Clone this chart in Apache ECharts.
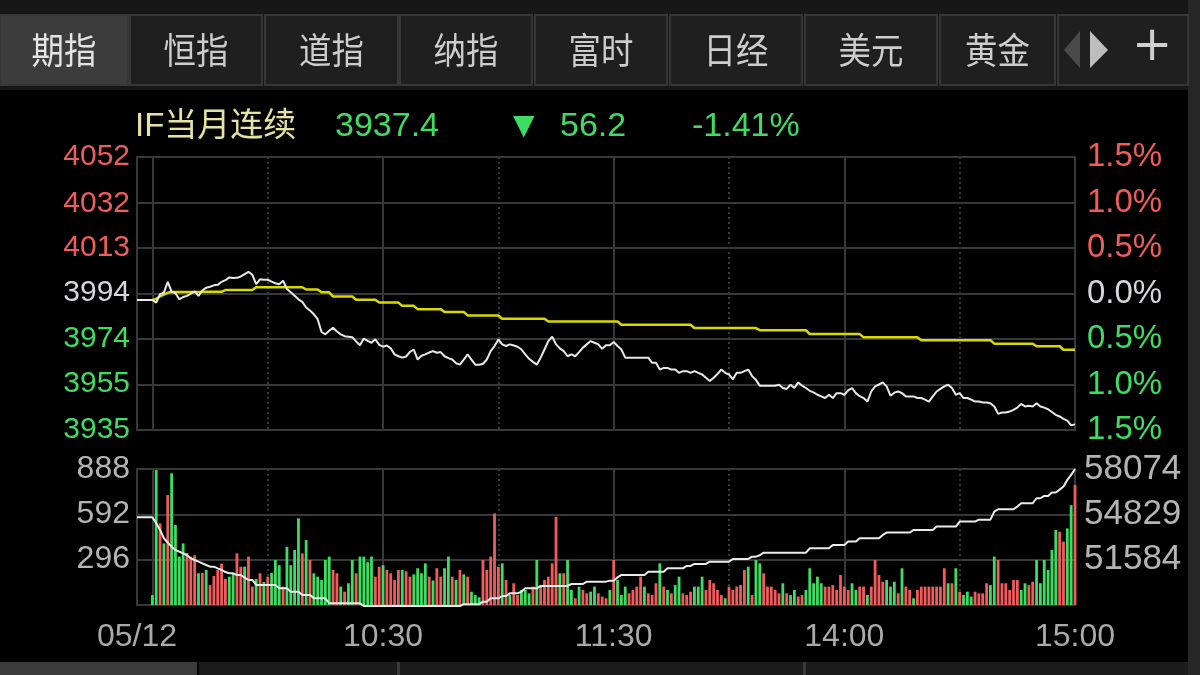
<!DOCTYPE html>
<html><head><meta charset="utf-8">
<script src="https://cdn.jsdelivr.net/npm/echarts@6/dist/echarts.min.js"></script>
<style>html,body{margin:0;padding:0;background:#000;}#c{width:1200px;height:675px;}</style>
</head><body><div id="c"></div><script>
// ---------- DATA ----------
const tabNames = ['期指','恒指','道指','纳指','富时','日经','美元','黄金'];
const title = 'IF当月连续';
const lastPrice = '3937.4';
const change = '56.2';
const changePct = '-1.41%';
const prevClose = 3993.6;
const timeTickIndex = [0, 64, 124, 184, 244];
const timeTickText = ['05/12', '10:30', '11:30', '14:00', '15:00'];
const priceTicks = [3935, 3955, 3974, 3994, 4013, 4032, 4052];
const oiTicks = [51584, 54829, 58074];
// price: 4 pre-open points + 241 minutes (09:30..11:30, 13:01..15:00)
const price = [3990.7,3990.7,3990.7,3990.7,
3990.7,3989.6,3993.2,3993.9,3998.5,3994.3,3993.6,3991.0,3992.0,3992.5,
3993.4,3994.4,3992.5,3994.8,3996.0,3996.4,3997.0,3997.2,3998.5,3999.2,
4000.4,4000.1,4000.2,4000.8,4001.8,4002.8,4001.5,3997.5,3999.6,3999.4,
3999.4,3998.6,3997.9,3997.5,3999.0,3995.4,3994.0,3992.5,3991.0,3989.9,
3987.5,3986.2,3984.6,3982.5,3977.0,3976.0,3977.5,3978.8,3977.2,3976.0,
3975.2,3975.0,3974.8,3973.0,3971.3,3974.2,3973.2,3972.4,3973.9,3971.5,
3970.7,3971.2,3970.0,3967.4,3966.6,3966.0,3966.5,3968.5,3969.5,3965.2,
3966.8,3967.4,3968.2,3968.8,3968.1,3968.4,3966.6,3965.8,3965.2,3963.6,
3963.0,3965.2,3967.4,3965.2,3963.0,3963.0,3963.4,3965.2,3968.8,3971.0,
3973.8,3971.7,3971.0,3971.7,3971.2,3970.7,3969.5,3967.4,3965.5,3964.2,
3963.0,3966.0,3969.5,3973.1,3975.0,3971.7,3970.0,3968.8,3966.6,3967.4,
3966.6,3968.4,3970.3,3971.7,3973.1,3972.4,3971.7,3969.8,3971.3,3971.3,
3972.7,3971.0,3969.5,3966.0,3966.0,3966.0,3966.0,3966.0,3966.0,3966.0,
3963.8,3963.8,3960.9,3961.6,3961.6,3960.9,3960.9,3959.5,3960.2,3960.2,
3959.5,3960.2,3959.5,3958.8,3957.4,3956.0,3957.4,3959.0,3960.9,3959.5,
3958.8,3956.7,3959.5,3959.5,3960.2,3960.9,3958.1,3956.5,3954.0,3954.0,
3954.0,3954.0,3954.0,3954.4,3953.0,3952.6,3954.4,3953.0,3955.4,3954.0,
3953.0,3951.8,3951.1,3950.1,3949.4,3948.7,3950.1,3948.7,3950.8,3950.8,
3950.1,3952.0,3953.0,3950.8,3949.5,3948.7,3947.2,3951.5,3953.7,3954.5,
3955.4,3953.7,3949.7,3951.0,3951.5,3950.8,3949.4,3949.4,3949.4,3948.7,
3948.7,3948.0,3947.2,3949.4,3951.5,3952.6,3953.7,3954.4,3953.0,3950.1,
3950.8,3948.7,3948.7,3948.0,3947.2,3947.2,3946.8,3946.8,3946.5,3945.1,
3941.9,3942.5,3942.5,3942.9,3943.6,3944.6,3946.2,3945.1,3945.4,3945.1,
3946.5,3945.1,3944.6,3943.9,3942.7,3941.5,3940.8,3939.8,3939.0,3937.0,
3937.4];
const avgPrice = [null,null,null,null,
3990.7,3991.2,3992.3,3993.0,3993.8,3994.1,3994.1,3994.1,3994.1,3994.1,
3994.1,3994.1,3994.1,3994.2,3994.2,3994.2,3994.2,3994.2,3994.2,3995.0,
3995.0,3995.0,3995.0,3995.0,3995.0,3995.0,3995.0,3996.2,3996.2,3996.2,
3996.2,3996.2,3996.2,3996.2,3996.2,3996.2,3996.2,3996.2,3996.2,3996.2,
3995.2,3995.2,3995.2,3995.2,3994.0,3994.0,3994.0,3992.2,3992.2,3992.2,
3992.2,3992.2,3992.2,3990.8,3990.8,3990.8,3990.8,3990.8,3990.8,3989.6,
3989.6,3989.6,3989.6,3989.6,3989.6,3988.2,3988.2,3988.2,3988.2,3986.8,
3986.8,3986.8,3986.8,3986.8,3986.8,3986.8,3985.6,3985.6,3985.6,3985.6,
3985.6,3985.6,3984.1,3984.1,3984.1,3984.1,3984.1,3984.1,3984.1,3984.1,
3984.1,3982.7,3982.7,3982.7,3982.7,3982.7,3982.7,3982.7,3982.7,3982.7,
3982.7,3982.7,3982.7,3981.5,3981.5,3981.5,3981.5,3981.5,3981.5,3981.5,
3981.5,3981.5,3981.5,3981.5,3981.5,3981.5,3981.5,3981.5,3981.5,3981.5,
3981.5,3981.5,3980.1,3980.1,3980.1,3980.1,3980.1,3980.1,3980.1,3980.1,
3980.1,3980.1,3980.1,3980.1,3980.1,3980.1,3980.1,3980.1,3980.1,3980.1,
3980.1,3978.7,3978.7,3978.7,3978.7,3978.7,3978.7,3978.7,3978.7,3978.7,
3978.7,3978.7,3978.7,3978.7,3978.7,3978.7,3978.7,3978.7,3977.8,3977.8,
3977.8,3977.8,3977.8,3977.8,3977.8,3977.8,3977.8,3977.8,3977.8,3977.8,
3977.8,3976.1,3976.1,3976.1,3976.1,3976.1,3976.1,3976.1,3976.1,3976.1,
3976.1,3976.1,3976.1,3976.1,3976.1,3974.7,3974.7,3974.7,3974.7,3974.7,
3974.7,3974.7,3974.7,3974.7,3974.7,3974.7,3974.7,3974.7,3974.7,3974.7,
3973.5,3973.5,3973.5,3973.5,3973.5,3973.5,3973.5,3973.5,3973.5,3973.5,
3973.5,3973.5,3973.5,3973.5,3973.5,3973.5,3973.5,3973.5,3973.5,3972.0,
3972.0,3972.0,3972.0,3972.0,3972.0,3972.0,3972.0,3972.0,3972.0,3972.0,
3970.9,3970.9,3970.9,3970.9,3970.9,3970.9,3970.9,3969.4,3969.4,3969.4,
3969.4];
const volume = [null,null,null,null,
65,881,533,402,718,860,522,316,402,340,
316,325,207,210,229,130,190,229,270,170,
185,210,337,250,250,316,120,170,207,150,
185,210,294,260,120,380,260,359,566,337,
424,294,207,185,163,294,316,229,207,120,
87,142,294,207,316,316,280,316,185,250,
260,229,207,163,229,229,220,185,200,240,
207,272,185,160,240,185,240,316,185,163,
229,200,185,87,65,50,294,229,316,598,
250,272,163,65,142,65,98,98,76,120,
294,130,163,185,272,576,207,207,294,98,
44,120,98,76,87,120,76,55,44,98,
294,163,65,120,76,98,120,185,120,76,
65,142,272,120,98,76,130,185,76,65,
87,120,120,185,98,163,142,98,65,44,
120,98,120,130,229,250,65,294,272,207,
120,120,98,76,142,76,65,98,55,65,
98,240,142,185,142,120,120,130,98,196,
120,98,142,98,120,120,65,120,294,196,
152,163,120,152,76,240,120,98,44,98,
120,120,120,120,120,120,240,142,142,240,
87,65,87,55,87,76,76,142,130,316,
294,142,142,98,163,163,98,142,130,152,
294,142,294,229,360,490,478,414,500,652,
783];
// R = up (red), G = down (green), one letter per minute
const volDir = 'GGRGRGGGGR'+'RRGRGRRRRR'+'GGRRGRRGRG'+'RGGGRGGGGR'+'GRGGGGGRRG'+
'RGGRGGGGRR'+'GRRRRGRRGG'+'GGRGRRGGRG'+'RGRGGGRRRR'+'RGRGRRGGGR'+
'GRRRRRGRGG'+'RGRRGGRRRG'+'RGGGRRRRGR'+'RRGRGRGGRR'+'RGGGRRRRRG'+
'RRRRRGRGGR'+'RRRRGRGGRR'+'GGGGGRRRRR'+'RRGGRRGRRR'+'RGGGRGRRGR'+
'RRRRRRRGRG'+'RGGGRRRRGG'+'RRRRRRGGRR'+'GGGGGGRRGG'+'R';
const openInterest = [54619,54619,54619,54619,
54619,54200,53711,53114,52800,52517,52279,52160,52040,51900,
51682,51560,51440,51324,51200,51085,51085,50960,50846,50700,
50607,50607,50488,50488,50300,50130,50130,49772,49772,49772,
49772,49772,49772,49533,49533,49533,49294,49294,49294,49055,
49055,49055,48817,48817,48817,48817,48458,48458,48458,48458,
48458,48458,48458,48458,48458,48267,48267,48267,48267,48267,
48267,48267,48267,48267,48267,48267,48267,48267,48267,48267,
48267,48267,48267,48267,48267,48267,48267,48267,48267,48267,
48267,48400,48400,48400,48400,48400,48578,48578,48817,48817,
48817,48984,48984,49175,49175,49175,49294,49533,49533,49533,
49533,49700,49700,49700,49700,49700,49700,49700,49700,49843,
49843,49843,49843,50010,50010,50010,50010,50010,50010,50082,
50082,50321,50488,50488,50488,50488,50488,50488,50488,50727,
50727,50727,50727,50727,50965,50965,50965,50965,50965,51133,
51133,51276,51276,51276,51276,51443,51443,51443,51443,51443,
51443,51634,51634,51634,51634,51634,51801,51801,51900,52087,
52087,52087,52087,52087,52087,52087,52087,52087,52087,52087,
52087,52398,52398,52398,52398,52398,52398,52637,52637,52637,
52637,52876,52876,52876,53115,53115,53115,53115,53115,53115,
53353,53520,53520,53520,53520,53520,53520,53520,53711,53711,
53711,53711,53711,53711,53950,53950,53950,53950,53950,53950,
54308,54308,54308,54308,54308,54450,54450,54450,54450,55025,
55192,55192,55192,55192,55192,55383,55622,55622,55622,55622,
55980,55980,56147,56147,56386,56386,56600,56816,57293,57651,
58074];

// ---------- categories (minute labels) ----------
const categories = [];
['09:26','09:27','09:28','09:29'].forEach(t => categories.push(t));
function pushRange(h0, m0, h1, m1) {
  let h = h0, m = m0;
  while (h < h1 || (h === h1 && m <= m1)) {
    categories.push(String(h).padStart(2,'0') + ':' + String(m).padStart(2,'0'));
    m++; if (m === 60) { m = 0; h++; }
  }
}
pushRange(9,30,11,30); pushRange(13,1,15,0);
const PRE = 4;
const solidIdx = [PRE+0, PRE+60, PRE+120, PRE+180];
const dottedIdx = [PRE+30, PRE+90, PRE+150, PRE+210];

// ---------- STYLE ----------
const FONT = '"Liberation Sans", Arial, "Noto Sans CJK SC", sans-serif';
const CJK = '"Noto Sans CJK SC", sans-serif';
const RED = '#f05b5b', GREEN = '#3ddc63', GRID = '#383838';
const upDownColor = (v, ref) => v > ref + 0.3 ? RED : (v < ref - 0.3 ? GREEN : '#d6d6dc');

const G0 = {left:137, top:157, width:938, height:273};
const G1 = {left:137, top:469, width:938, height:136};

function catAxis(grid, idxList, dashed, withLabels) {
  return {
    type:'category', gridIndex:grid, data:categories, boundaryGap:false,
    axisLine:{show:false}, axisTick:{show:false},
    axisLabel: withLabels ? {
      show:true, interval:(i)=>timeTickIndex.includes(i),
      formatter:(v,i)=>timeTickText[timeTickIndex.indexOf(i)],
      color:'#a9a9a9', fontSize:32, fontFamily:FONT, margin:16
    } : {show:false},
    splitLine:{show:true, interval:(i)=>idxList.includes(i),
      lineStyle:{color:GRID, width:2, type: dashed ? [2,3] : 'solid'}}
  };
}

// tabs geometry
const tabX = [[0,128],[130,262],[265,398],[400,532],[535,667],[670,802],[805,937],[940,1055]];
const graphics = [
  {type:'rect', shape:{x:0,y:0,width:1200,height:90}, style:{fill:'#171717'}, silent:true},
  {type:'rect', shape:{x:1188,y:0,width:12,height:675}, style:{fill:'#262626'}, silent:true},
  {type:'rect', shape:{x:0,y:662,width:197,height:13}, style:{fill:'#3c3c3c'}, silent:true},
  {type:'rect', shape:{x:199,y:662,width:989,height:13}, style:{fill:'#1c1c1c'}, silent:true},
  {type:'rect', shape:{x:397,y:662,width:3,height:13}, style:{fill:'#3a3a3a'}, silent:true},
  {type:'rect', shape:{x:803,y:662,width:3,height:13}, style:{fill:'#3a3a3a'}, silent:true},
];
tabX.forEach((t, i) => {
  graphics.push({type:'rect', shape:{x:t[0], y:15, width:t[1]-t[0], height:70},
    style:{fill: i===0 ? '#3c3c3c' : '#1f1f1f', stroke:'#363636', lineWidth:2}, silent:true});
  graphics.push({type:'text', x:(t[0]+t[1])/2, y:50, scaleX:0.9,
    style:{text:tabNames[i], x:0, y:0,
    fill: i===0 ? '#e4e4e4' : '#cdcdcd', font:'36px '+CJK,
    align:'center', verticalAlign:'middle'}, silent:true});
});
graphics.push({type:'rect', shape:{x:1058,y:15,width:130,height:70},
  style:{fill:'#1f1f1f', stroke:'#363636', lineWidth:2}, silent:true});
graphics.push({type:'polygon', shape:{points:[[1080,31],[1080,68],[1064,50]]}, style:{fill:'#4a4a4a'}, silent:true});
graphics.push({type:'polygon', shape:{points:[[1090,31],[1090,68],[1108,50]]}, style:{fill:'#bdbdbd'}, silent:true});
graphics.push({type:'text', style:{text:'+', x:1152, y:48, fill:'#cfcfcf',
  font:'48px "DejaVu Sans", sans-serif', align:'center', verticalAlign:'middle'}, silent:true});
// header
graphics.push({type:'text', style:{text:title, x:135, y:127, fill:'#e6e2a2',
  font:'33px "Liberation Sans","Noto Sans CJK SC", sans-serif', verticalAlign:'middle'}, silent:true});
graphics.push({type:'text', style:{text:lastPrice, x:335, y:127, fill:GREEN,
  font:'34px '+FONT, verticalAlign:'middle'}, silent:true});
graphics.push({type:'text', style:{text:'▼', x:513, y:127, fill:GREEN,
  font:'28px "DejaVu Sans", sans-serif', verticalAlign:'middle'}, silent:true});
graphics.push({type:'text', style:{text:change, x:560, y:127, fill:GREEN,
  font:'34px '+FONT, verticalAlign:'middle'}, silent:true});
graphics.push({type:'text', style:{text:changePct, x:692, y:127, fill:GREEN,
  font:'34px '+FONT, verticalAlign:'middle'}, silent:true});

const option = {
  backgroundColor:'#000',
  animation:false,
  graphic: graphics,
  grid:[
    Object.assign({show:true, borderColor:GRID, borderWidth:2}, G0),
    Object.assign({show:true, borderColor:GRID, borderWidth:2}, G1)
  ],
  xAxis:[
    catAxis(0, solidIdx, false, false),
    catAxis(0, dottedIdx, true, false),
    catAxis(1, solidIdx, false, true),
    catAxis(1, dottedIdx, true, false)
  ],
  yAxis:[
    {type:'value', gridIndex:0, position:'left', min:3935, max:4052,
     axisLine:{show:false}, axisTick:{show:false}, splitLine:{show:false},
     axisLabel:{customValues:priceTicks, fontSize:30, fontFamily:FONT, margin:7,
       formatter:(v)=>String(v), color:(v)=>upDownColor(Number(v), 3994)}},
    {type:'value', gridIndex:0, position:'right', min:-1.5, max:1.5, interval:0.5,
     axisLine:{show:false}, axisTick:{show:false},
     splitLine:{show:true, lineStyle:{color:GRID, width:2}},
     axisLabel:{fontSize:33, fontFamily:FONT, margin:12,
       formatter:(v)=>Math.abs(v).toFixed(1)+'%', color:(v)=>upDownColor(Number(v), 0)}},
    {type:'value', gridIndex:1, position:'left', min:0, max:888, interval:296,
     axisLine:{show:false}, axisTick:{show:false},
     splitLine:{show:true, lineStyle:{color:GRID, width:2}},
     axisLabel:{fontSize:32, fontFamily:FONT, margin:7, color:'#b4b4b4',
       formatter:(v)=> v === 0 ? '' : String(v)}},
    {type:'value', gridIndex:1, position:'right', min:48339, max:58074,
     axisLine:{show:false}, axisTick:{show:false}, splitLine:{show:false},
     axisLabel:{customValues:oiTicks, fontSize:35, fontFamily:FONT, margin:9, color:'#b4b4b4',
       formatter:(v)=>String(Math.round(v))}}
  ],
  series:[
    {name:'均价', type:'line', xAxisIndex:0, yAxisIndex:0, data:avgPrice, symbol:'none',
     lineStyle:{color:'#d9d900', width:2.5}, z:2},
    {name:'价格', type:'line', xAxisIndex:0, yAxisIndex:0, data:price, symbol:'none',
     lineStyle:{color:'#e8e8e8', width:2}, z:3},
    {name:'成交量', type:'bar', xAxisIndex:2, yAxisIndex:2, barWidth:2.8,
     data: volume.map((v, i) => v === null ? null :
       ({value:v, itemStyle:{color: volDir[i-PRE] === 'R' ? RED : GREEN}})), z:2},
    {name:'持仓量', type:'line', xAxisIndex:2, yAxisIndex:3, data:openInterest, symbol:'none',
     clip:false, lineStyle:{color:'#ececec', width:2}, z:3}
  ]
};
const chart = echarts.init(document.getElementById('c'), null, {renderer:'canvas'});
chart.setOption(option);
</script></body></html>
